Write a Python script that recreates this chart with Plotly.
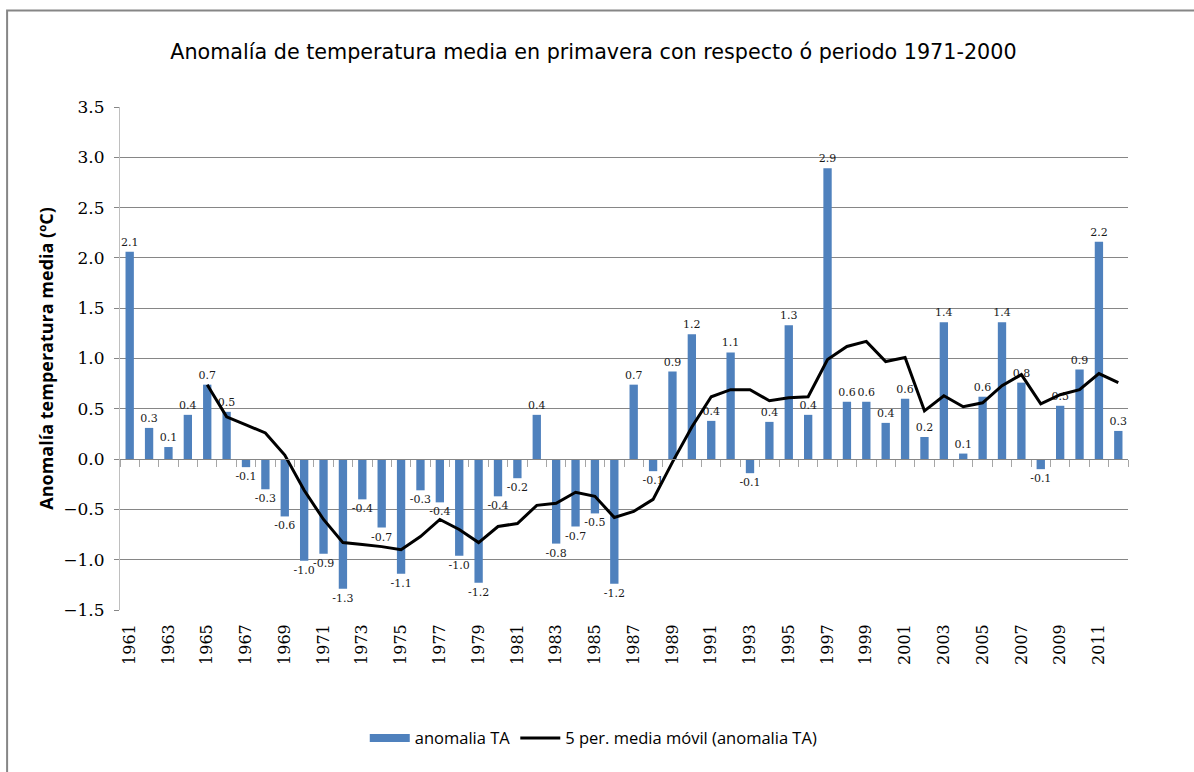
import plotly.graph_objects as go

# Datos
years = list(range(1961, 2013))
anomalia = [
    2.06, 0.31, 0.12, 0.44, 0.74, 0.47, -0.08, -0.30, -0.57, -1.01,
    -0.94, -1.29, -0.40, -0.68, -1.14, -0.31, -0.43, -0.96, -1.23, -0.37,
    -0.19, 0.44, -0.84, -0.67, -0.54, -1.24, 0.74, -0.12, 0.87, 1.24,
    0.38, 1.06, -0.14, 0.37, 1.33, 0.44, 2.89, 0.57, 0.57, 0.36,
    0.60, 0.22, 1.36, 0.055, 0.62, 1.36, 0.76, -0.10, 0.53, 0.89,
    2.16, 0.28,
]
media_movil = [
    None, None, None, None, 0.74, 0.42, 0.34, 0.26, 0.04, -0.31,
    -0.60, -0.83, -0.85, -0.87, -0.90, -0.77, -0.60, -0.70, -0.83, -0.67,
    -0.64, -0.46, -0.44, -0.33, -0.37, -0.58, -0.52, -0.40, -0.03, 0.32,
    0.62, 0.69, 0.69, 0.58, 0.61, 0.62, 0.99, 1.12, 1.17, 0.97,
    1.01, 0.48, 0.63, 0.52, 0.56, 0.73, 0.84, 0.55, 0.64, 0.69,
    0.85, 0.76,
]
y_ticks = [3.5, 3.0, 2.5, 2.0, 1.5, 1.0, 0.5, 0.0, -0.5, -1.0, -1.5]

BLUE = '#4F81BD'
GRID = '#868686'
TICK_FONT = 'DejaVu Serif'
SANS = 'Open Sans'

fig = go.Figure()

fig.add_trace(go.Bar(
    x=years, y=anomalia,
    marker=dict(color=BLUE, line=dict(width=0)),
    texttemplate='%{y:.1f}', textposition='outside',
    textfont=dict(family=TICK_FONT, size=11, color='#1a1a1a'),
    constraintext='none', cliponaxis=False,
    showlegend=False,
))
fig.add_trace(go.Scatter(
    x=years, y=media_movil, mode='lines',
    line=dict(color='black', width=3),
    showlegend=False,
))

# entradas de leyenda
fig.add_trace(go.Scatter(
    x=[None], y=[None], mode='lines', name='anomalia TA',
    line=dict(color=BLUE, width=8),
))
fig.add_trace(go.Scatter(
    x=[None], y=[None], mode='lines', name='5 per. media móvil (anomalia TA)',
    line=dict(color='black', width=3),
))

# eje con marcas sobre la línea del cero
fig.add_trace(go.Scatter(x=[None], y=[None], xaxis='x2', showlegend=False))

fig.update_layout(
    width=1194, height=772,
    margin=dict(l=120, r=66, t=107, b=162),
    paper_bgcolor='white', plot_bgcolor='white',
    bargap=0.57,
    title=dict(
        text='Anomalía de temperatura media en primavera con respecto ó periodo 1971-2000',
        x=0.497, xanchor='center', y=0.933, yanchor='middle',
        font=dict(family='DejaVu Sans', size=20.7, color='black'),
    ),
    xaxis=dict(
        range=[1960.5, 2012.5], tick0=1961, dtick=2,
        tickangle=-90, ticks='', showgrid=False, showline=False,
        zeroline=False, ticklabelstandoff=10,
        tickfont=dict(family=TICK_FONT, size=16, color='black'),
    ),
    xaxis2=dict(
        overlaying='x', matches='x', anchor='free', position=0.3,
        range=[1960.5, 2012.5], tick0=1960.5, dtick=1,
        ticks='outside', ticklen=7, tickcolor='#a6a6a6', tickwidth=1,
        showticklabels=False, showline=True, linecolor=GRID, linewidth=1,
        showgrid=False, zeroline=False,
    ),
    yaxis=dict(
        range=[-1.5, 3.5], tickvals=y_ticks, tickformat='.1f',
        showgrid=True, gridcolor=GRID, gridwidth=1,
        zeroline=False, showline=True, linecolor='#bfbfbf', linewidth=1,
        ticks='outside', ticklen=5, tickcolor=GRID,
        ticklabelstandoff=6,
        tickfont=dict(family=TICK_FONT, size=17, color='black'),
        title=dict(
            text='Anomalía temperatura media (ºC)', standoff=5,
            font=dict(family=SANS, size=18, color='black', weight='bold'),
        ),
    ),
    legend=dict(
        orientation='h', x=0.47, xanchor='center', y=-0.255, yanchor='middle',
        font=dict(family=SANS, size=16.5, color='black'),
        itemwidth=40, tracegroupgap=0,
    ),
)

# borde del área del gráfico
fig.add_shape(
    type='rect', xref='paper', yref='paper',
    x0=-0.112, x1=1.2, y0=-0.6, y1=1.192,
    line=dict(color=GRID, width=2), fillcolor='rgba(0,0,0,0)', layer='below',
)

fig.write_html('out.html', config={'displayModeBar': False},
               post_script="document.body.style.margin='0';")
